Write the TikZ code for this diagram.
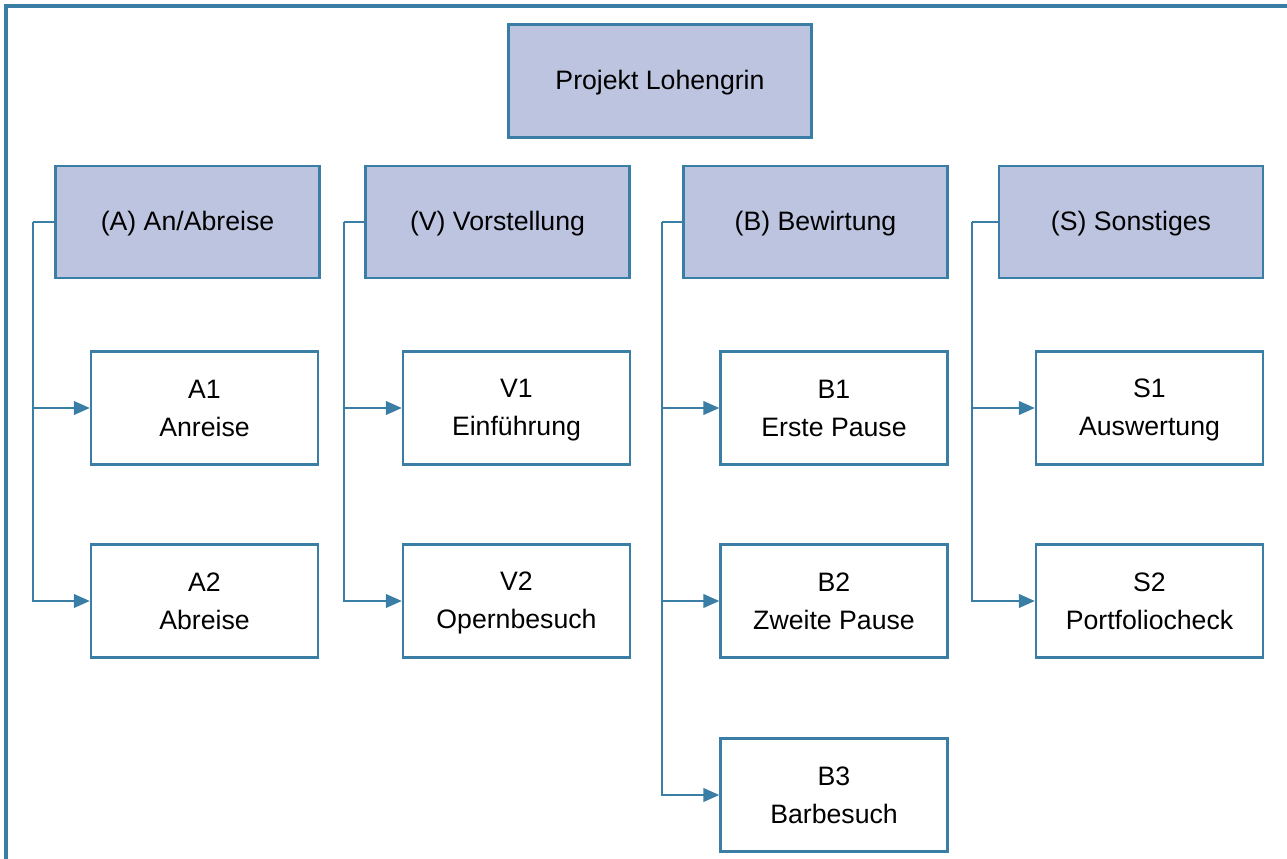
\documentclass[tikz,border=0pt]{standalone}
\usepackage{fontspec}
\setmainfont{Liberation Sans}
\usetikzlibrary{arrows.meta}
\definecolor{edgeblue}{RGB}{58,125,165}
\definecolor{boxfill}{RGB}{189,196,224}
\newcommand\mystr{\rule[-3pt]{0pt}{20pt}}
\begin{document}
\begin{tikzpicture}[x=0.75pt,y=-0.75pt,
  box/.style={draw=edgeblue,line width=1.9pt,rectangle,inner sep=0pt,align=center,
    font=\fontsize{20}{28}\selectfont,text=black},
  rootbox/.style={box,fill=boxfill,minimum width=227pt,minimum height=85pt},
  groupbox/.style={box,fill=boxfill,minimum width=198pt,minimum height=84pt},
  leafbox/.style={box,fill=white,minimum width=170pt,minimum height=85pt},
  conn/.style={draw=edgeblue,line width=2.1pt},
  arr/.style={conn,-{Triangle[length=12pt,width=10pt]}}]
\useasboundingbox (0,0) rectangle (1287,859);
\draw[edgeblue,line width=3pt] (6,859) -- (6,6) -- (1287,6);

\node[rootbox] (root) at (660,81) {\mystr Projekt Lohengrin};

\node[groupbox] (A) at (187.5,222) {\mystr(A) An/Abreise};
\node[groupbox] (V) at (497.5,222) {\mystr(V) Vorstellung};
\node[groupbox] (B) at (815.5,222) {\mystr(B) Bewirtung};
\node[groupbox] (S) at (1131,222) {\mystr(S) Sonstiges};

\node[leafbox] (A1) at (204.5,408) {\mystr A1\\\mystr Anreise};
\node[leafbox] (A2) at (204.5,601) {\mystr A2\\\mystr Abreise};
\node[leafbox] (V1) at (516.5,408) {\mystr V1\\\mystr Einführung};
\node[leafbox] (V2) at (516.5,601) {\mystr V2\\\mystr Opernbesuch};
\node[leafbox] (B1) at (834,408) {\mystr B1\\\mystr Erste Pause};
\node[leafbox] (B2) at (834,601) {\mystr B2\\\mystr Zweite Pause};
\node[leafbox] (B3) at (834,795) {\mystr B3\\\mystr Barbesuch};
\node[leafbox] (S1) at (1149.5,408) {\mystr S1\\\mystr Auswertung};
\node[leafbox] (S2) at (1149.5,601) {\mystr S2\\\mystr Portfoliocheck};

\coordinate (aT) at (33,222);
\coordinate (vT) at (344,222);
\coordinate (bT) at (662,222);
\coordinate (sT) at (972,222);

\draw[conn] (A.west) -- (aT);
\draw[arr] (aT) |- (A1.west);
\draw[arr] (aT) |- (A2.west);

\draw[conn] (V.west) -- (vT);
\draw[arr] (vT) |- (V1.west);
\draw[arr] (vT) |- (V2.west);

\draw[conn] (B.west) -- (bT);
\draw[arr] (bT) |- (B1.west);
\draw[arr] (bT) |- (B2.west);
\draw[arr] (bT) |- (B3.west);

\draw[conn] (S.west) -- (sT);
\draw[arr] (sT) |- (S1.west);
\draw[arr] (sT) |- (S2.west);
\end{tikzpicture}
\end{document}
